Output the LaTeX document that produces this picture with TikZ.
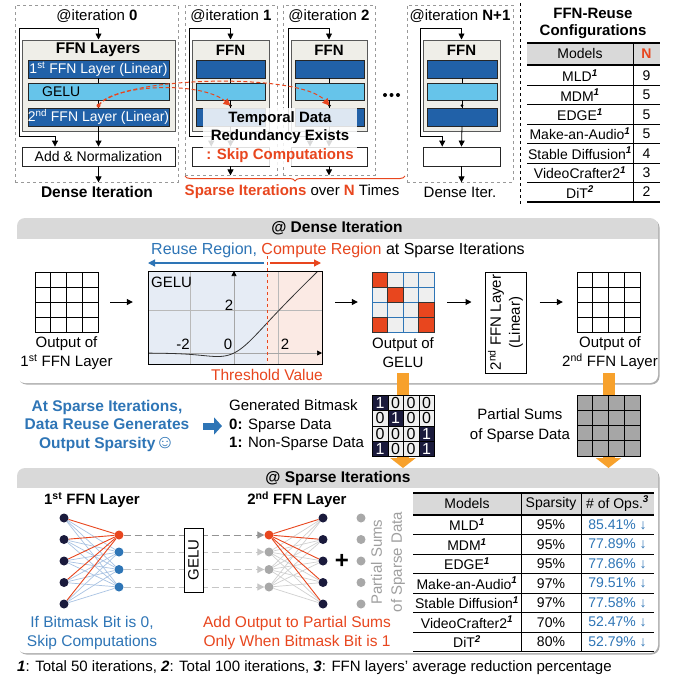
\documentclass[tikz,border=0pt]{standalone}
\usepackage{fontspec}
\setmainfont{Liberation Sans}
\usetikzlibrary{arrows.meta,decorations.pathreplacing,fit,shadows,calc}
\pgfdeclarelayer{back}
\pgfdeclarelayer{edges}
\pgfsetlayers{back,edges,main}
\definecolor{dkblue}{HTML}{2161A8}
\definecolor{ltblue}{HTML}{66C4EA}
\definecolor{ffnfill}{HTML}{EFEEE8}
\definecolor{redo}{HTML}{E8461E}
\definecolor{txtblue}{HTML}{2E75B6}
\definecolor{orng}{HTML}{F7A12C}
\definecolor{navy}{HTML}{1A1A3C}
\definecolor{hdrgray}{HTML}{D9D9D9}
\definecolor{reusefill}{HTML}{E6ECF5}
\definecolor{compfill}{HTML}{FBEAE4}
\definecolor{cellgray}{HTML}{EFEFEF}
\definecolor{psgray}{HTML}{A6A6A6}
\definecolor{nngray}{HTML}{A8A8A8}
\definecolor{edgeblue}{HTML}{A9C3E3}
\definecolor{edgegray}{HTML}{D0D0D0}
\newcommand\fsz{\fontsize{15}{18}\selectfont}
\newcommand\fsy{\fontsize{14}{17}\selectfont}
\newcommand\tsup[1]{\textsuperscript{\bfseries\itshape #1}}
\newcommand\cgrid[5]{%
  \foreach \ii in {0,...,3} \foreach \jj in {0,...,3}
    \draw[#5] ({#1+\ii*#3},{#2+\jj*#4}) rectangle ++(#3,#4);
}
\newcommand\ffnit[9]{%
  \node[itbox, fit={(#2,5)(#3,#4)}] (#1) {};
  \node[lbl] (#1t) at ({(#2+#3)/2},16) {#9};
  \node[ffnbox, fit={(#5,40)(#6,131)}] (#1f) {};
  \node[lbl, font=\bfseries\fsz] (#1h) at ({(#5+#6)/2},50) {FFN};
  \node[dkbox, fit={(#7,60)(#8,78)}] (#1a) {};
  \node[ltbox, fit={(#7,83)(#8,100)}] (#1g) {};
  \node[dkbox, fit={(#7,108)(#8,126)}] (#1b) {};
  \node[addbox, fit={(#5,147)(#6,166)}] (#1n) {};
  \draw (#1a) -- (#1g);
  \draw (#1g) -- (#1b);
  \coordinate (#1c) at ({#5-3},28);
  \coordinate (#1d) at ({(3*#5+#6)/4},136);
  \draw[arr] (#1c) -| (#1f.north);
  \draw[arr] (#1c) |- (#1d) -- (#1d |- #1n.north);
  \draw[arr] (#1b.south) -- (#1n.north);
  \draw[arr] (#1n.south) -- (#1n.south |- #1.south);
  \fill ($(#1b.north)+(0,-2)$) circle (1.6);
}
\tikzset{
  every node/.style={font=\fsz},
  lbl/.style={inner sep=0pt},
  itbox/.style={draw=gray!80, dashed, line width=0.8pt, inner sep=0pt},
  ffnbox/.style={draw=gray!70!black, fill=ffnfill, line width=1pt, inner sep=0pt},
  dkbox/.style={draw=black!85, fill=dkblue, line width=0.8pt, inner sep=0pt},
  ltbox/.style={draw=black!85, fill=ltblue, line width=0.8pt, inner sep=0pt},
  addbox/.style={draw=black!85, fill=white, line width=0.8pt, inner sep=0pt},
  arr/.style={-{Triangle[length=6pt,width=6pt]}, line width=0.8pt},
  reddash/.style={draw=redo, dash pattern=on 4pt off 2.5pt, line width=1pt, -{Triangle[length=7pt,width=7pt]}},
  panel/.style={fill=white, rounded corners=8pt, inner sep=0pt, drop shadow={shadow xshift=1.5pt, shadow yshift=-1.5pt, fill=black!45, opacity=0.7}},
  tt/.style={font=\fsy, inner sep=0pt},
  nn/.style={circle, minimum size=9pt, inner sep=0pt},
  hid/.style={inner sep=0pt},
}
\begin{document}
\begin{tikzpicture}[x=1pt,y=-1pt]
\useasboundingbox (0,0) rectangle (677,681);

% ================= TOP: iterations =================
\node[itbox, fit={(15,5)(178,182)}] (it0) {};
\node[lbl] (it0t) at (97,16) {@iteration \textbf{0}};
\node[ffnbox, fit={(22,40)(175,131)}] (it0f) {};
\node[lbl, font=\bfseries\fontsize{15.5}{18}\selectfont] (it0h) at (98,50) {FFN Layers};
\node[dkbox, fit={(28,60)(169,78)}] (it0a) {};
\node[lbl, text=white, font=\fsy] (it0at) at (it0a.center) {1\textsuperscript{st} FFN Layer (Linear)};
\node[ltbox, fit={(28,83)(169,100)}] (it0g) {};
\node[lbl, anchor=west, font=\fsy] (it0gt) at (42,91.5) {GELU};
\node[dkbox, fit={(28,108)(169,126)}] (it0b) {};
\node[lbl, text=white, font=\fsy] (it0bt) at (it0b.center) {2\textsuperscript{nd} FFN Layer (Linear)};
\node[addbox, fit={(22,147)(175,166)}] (it0n) {};
\node[lbl, font=\fsy] (it0nt) at (it0n.center) {Add \& Normalization};
\draw (it0a) -- (it0g);
\draw (it0g) -- (it0b);
\coordinate (it0c) at (19,28);
\coordinate (it0d) at (55,136);
\draw[arr] (it0c) -| (it0f.north);
\draw[arr] (it0c) |- (it0d) -- (it0d |- it0n.north);
\draw[arr] (it0b.south) -- (it0n.north);
\draw[arr] (it0n.south) -- (it0n.south |- it0.south);
\node[lbl, font=\bfseries\fontsize{15.5}{18}\selectfont] (it0l) at (97,192) {Dense Iteration};

\ffnit{it1}{185}{277}{175}{192}{269}{196}{265}{@iteration \textbf{1}}
\ffnit{it2}{283}{375}{175}{291}{367}{295}{364}{@iteration \textbf{2}}
\ffnit{itn}{407}{513}{182}{423}{500}{427}{497}{@iteration \textbf{N+1}}
\node[lbl] (itnl) at (460,192) {Dense Iter.};

\foreach \x in {385,391.5,398} \fill (\x,95) circle (2);

% overlay
\node[fill=white, fill opacity=0.85, inner sep=0pt, fit={(203,108)(357,166)}] (ov) {};
\node[lbl, font=\bfseries\fsz] (ov1) at (280,119) {Temporal Data};
\node[lbl, font=\bfseries\fsz] (ov2) at (280,137) {Redundancy Exists};
\node[lbl, font=\bfseries\fsz, text=redo] (ov3) at (280,156) {: Skip Computations};

% red dashed reuse curves
\coordinate (rd0) at ($(it0b.north)+(0,-2)$);
\coordinate (rd1) at ($(it1b.north)+(0,-2)$);
\coordinate (rd2) at ($(it2b.north)+(0,-2)$);
\fill[redo] (rd0) circle (2);
\draw[reddash] (rd0) .. controls (110,85) and (200,80) .. (rd1);
\draw[reddash] (rd0) .. controls (120,76) and (300,72) .. (rd2);

% brace
\draw[redo, line width=1pt, decorate, decoration={brace, amplitude=5pt, mirror}] (185,176) -- (405,176);
\node[lbl] (spl) at (292,192) {\textcolor{redo}{\textbf{Sparse Iterations}} over \textcolor{redo}{\textbf{N}} Times};

% separator
\draw[dashed, line width=0.8pt] (520,3) -- (520,205);

% table 1
\node[lbl, font=\bfseries\fontsize{15}{17}\selectfont, align=center] (cfgt) at (593,23) {FFN-Reuse\\Configurations};
\fill[hdrgray] (527,43) rectangle (660,64);
\draw[line width=1.2pt] (527,43) -- (660,43);
\draw[line width=1.6pt] (527,65) -- (660,65);
\foreach \k in {1,...,6} \draw[line width=0.8pt] (527,{66+19.4*\k}) -- (660,{66+19.4*\k});
\draw[line width=1.2pt] (527,202) -- (660,202);
\draw[line width=0.8pt] (633,43) -- (633,202);
\node[tt] (c1h) at (580,53.5) {Models};
\node[tt, text=redo, font=\bfseries\fsy] (c2h) at (646.5,53.5) {N};
\foreach \m/\n [count=\i] in {{MLD\tsup{1}}/9,{MDM\tsup{1}}/5,{EDGE\tsup{1}}/5,{Make-an-Audio\tsup{1}}/5,{Stable Diffusion\tsup{1}}/4,{VideoCrafter2\tsup{1}}/3,{DiT\tsup{2}}/2} {
  \node[tt] (cm\i) at (580,{75.7+19.4*(\i-1)}) {\m};
  \node[tt] (cn\i) at (646.5,{75.7+19.4*(\i-1)}) {\n};
}

% ================= MIDDLE: dense iteration panel =================
\begin{pgfonlayer}{back}
\node[panel, fit={(17,218)(658,383)}] (dp) {};
\begin{scope}
\clip[rounded corners=8pt] (17,218) rectangle (658,383);
\fill[hdrgray] (17,218) rectangle (658,239);
\end{scope}
\node[panel, fit={(17,468)(658,653)}] (sp) {};
\begin{scope}
\clip[rounded corners=8pt] (17,468) rectangle (658,653);
\fill[hdrgray] (17,468) rectangle (658,488);
\end{scope}
\end{pgfonlayer}
\node[lbl, font=\bfseries\fontsize{15.5}{18}\selectfont] (dpt) at (337,228.5) {@ Dense Iteration};
\node[lbl, anchor=west, font=\fontsize{16}{18}\selectfont] (rrt) at (151,250) {\textcolor{txtblue}{Reuse Region,} \textcolor{redo}{Compute Region} at Sparse Iterations};

% grid 1
\cgrid{35}{272}{15.75}{15}{line width=1pt, fill=white}
\node[hid, fit={(35,272)(98,332)}] (g1) {};
\node[lbl, align=center, font=\fontsize{15}{19}\selectfont] (g1l) at (66.5,353) {Output of\\1\textsuperscript{st} FFN Layer};

% GELU plot
\node[hid, fit={(148,271)(322,364)}] (gp) {};
\fill[reusefill] (148,271) rectangle (267,364);
\fill[compfill] (267,271) rectangle (322,364);
\draw[gray!55, line width=0.6pt] (190,271) -- (190,364) (278,271) -- (278,364) (148,310) -- (322,310);
\draw[gray!70, line width=0.7pt, -{Triangle[length=5pt,width=5pt,color=black]}] (234,364) -- (234,271);
\draw[gray!70, line width=0.7pt, -{Triangle[length=5pt,width=5pt,color=black]}] (148,353) -- (322,353);
\begin{scope}
\clip (148,271) rectangle (322,364);
\draw[black!80, line width=0.8pt] plot[domain=-3.95:4, samples=80, smooth] ({234+22*\x},{353-21.5*\x/(1+exp(-1.702*\x))});
\end{scope}
\draw[line width=1pt] (148,271) rectangle (322,364);
\node[lbl, anchor=west] (gpl) at (151,282) {GELU};
\node[lbl] (gy2) at (229,305) {2};
\node[lbl] (gxm2) at (183,344) {-2};
\node[lbl] (gx0) at (228,344) {0};
\node[lbl] (gx2) at (285,344) {2};
\coordinate (thT) at (267,256);
\coordinate (thB) at (267,364);
\draw[redo, dashed, line width=1pt] (thT) -- (thB);
\node[lbl, text=redo, font=\fontsize{15.5}{18}\selectfont] (thv) at (267,375) {Threshold Value};
\draw[txtblue, line width=1.2pt, -{Triangle[length=7pt,width=7pt]}] (264,263) -- (148,263);
\draw[redo, line width=1.2pt, -{Triangle[length=7pt,width=7pt]}] (270,263) -- (321,263);

% orange arrows (behind lower grids)
\coordinate (oa1) at (403,373);
\coordinate (oa1e) at (403,468);
\coordinate (oa2) at (608.5,373);
\coordinate (oa2e) at (608.5,468);
\draw[orng, line width=12pt, -{Triangle[length=10pt,width=25pt]}] (oa1) -- (oa1e);
\draw[orng, line width=12pt, -{Triangle[length=10pt,width=25pt]}] (oa2) -- (oa2e);

% GELU output grid
\cgrid{372}{272}{15.5}{15}{line width=0.8pt, draw=txtblue, fill=cellgray}
\foreach \ci/\cj in {0/0,1/1,3/2,0/3,3/3}
  \draw[line width=0.9pt, draw=black!80, fill=redo] ({372+\ci*15.5},{272+\cj*15}) rectangle ++(15.5,15);
\node[hid, fit={(372,272)(434,332)}] (g2) {};
\node[lbl, align=center, font=\fontsize{15}{19}\selectfont] (g2l) at (403,353) {Output of\\GELU};

% 2nd FFN linear box
\node[draw, line width=1pt, inner sep=0pt, fit={(485,272)(526,373)}] (lin) {};
\node[lbl, rotate=90, align=center, font=\fontsize{15}{19}\selectfont] (lint) at (lin.center) {2\textsuperscript{nd} FFN Layer\\(Linear)};

% grid 3
\cgrid{577}{272}{15.75}{15}{line width=1pt, fill=white}
\node[hid, fit={(577,272)(640,332)}] (g3) {};
\node[lbl, align=center, font=\fontsize{15}{19}\selectfont] (g3l) at (610,353) {Output of\\2\textsuperscript{nd} FFN Layer};

% flow arrows
\draw[arr, line width=1pt, shorten <=12pt, shorten >=15pt] (g1.east) -- (g1.east -| gp.west);
\draw[arr, line width=1pt, shorten <=13pt, shorten >=14pt] (g2.west -| gp.east) -- (g2.west);
\draw[arr, line width=1pt, shorten <=13pt, shorten >=13pt] (g2.east) -- (g2.east -| lin.west);
\draw[arr, line width=1pt, shorten <=13pt, shorten >=14pt] (g3.west -| lin.east) -- (g3.west);

% ================= STRIP =================
\node[lbl, align=center, text=txtblue, font=\bfseries\fontsize{15.5}{18.5}\selectfont] (spx) at (107,425.5) {At Sparse Iterations,\\Data Reuse Generates\\Output Sparsity{\mdseries\fontsize{19}{18.5}\selectfont ☺}};
\coordinate (ba1) at (203,426);
\coordinate (ba2) at (222,426);
\draw[txtblue, line width=7pt, -{Triangle[length=8pt,width=17pt]}] (ba1) -- (ba2);
\node[lbl, anchor=west, align=left, font=\fontsize{15}{18.5}\selectfont] (bmt) at (229,425.5) {Generated Bitmask\\\textbf{0:} Sparse Data\\\textbf{1:} Non-Sparse Data};
\foreach \row [count=\j from 0] in {{1,0,0,0},{0,1,0,0},{0,0,0,1},{1,0,0,1}} {
  \foreach \v [count=\i from 0] in \row {
    \ifnum\v=1 \def\cf{navy}\def\ct{white}\else\def\cf{cellgray}\def\ct{black}\fi
    \node[draw=black, line width=0.8pt, fill=\cf, text=\ct, minimum width=15.5pt, minimum height=15.25pt, inner sep=0pt, anchor=north west, font=\fontsize{16}{16}\selectfont] (bm\j\i) at ({372+15.5*\i},{395+15.25*\j}) {\v};
  }
}
\node[lbl, align=center, font=\fontsize{15}{20}\selectfont] (pst) at (520,426) {Partial Sums\\of Sparse Data};
\cgrid{577}{395}{15.75}{15.25}{line width=1pt, fill=psgray}

% ================= BOTTOM: sparse iterations panel =================
\node[lbl, font=\bfseries\fontsize{15.5}{18}\selectfont] (spt) at (338,478) {@ Sparse Iterations};
\node[lbl, font=\bfseries\fsz] (nl1) at (92,500) {1\textsuperscript{st} FFN Layer};
\node[lbl, font=\bfseries\fsz] (nl2) at (297,500) {2\textsuperscript{nd} FFN Layer};
\foreach \y [count=\i] in {518,539.5,561,582.5,604} {
  \node[nn, fill=navy] (L\i) at (64,\y) {};
  \node[nn, fill=navy] (O\i) at (323,\y) {};
  \node[nn, fill=nngray] (P\i) at (361,\y) {};
}
\foreach \y/\cm/\cr [count=\i] in {535/redo/redo,552/txtblue/nngray,569.5/txtblue/nngray,587/txtblue/nngray} {
  \node[nn, fill=\cm] (M\i) at (119,\y) {};
  \node[nn, fill=\cr] (R\i) at (269,\y) {};
}
\begin{pgfonlayer}{edges}
\foreach \i in {1,...,5} {
  \foreach \k in {2,3,4} {
    \draw[edgeblue, line width=0.7pt] (L\i) -- (M\k);
    \draw[edgegray, line width=0.7pt] (R\k) -- (O\i);
  }
}
\foreach \i in {1,...,5} {
  \draw[redo, line width=0.9pt] (L\i) -- (M1);
  \draw[redo, line width=0.9pt] (R1) -- (O\i);
}
\draw[gray!85, dash pattern=on 7pt off 4pt, line width=1pt, -{Triangle[length=7pt,width=7pt]}] (M1) -- (R1);
\foreach \k in {2,3,4}
  \draw[gray!45, dash pattern=on 7pt off 4pt, line width=1pt, -{Triangle[length=7pt,width=7pt]}] (M\k) -- (R\k);
\end{pgfonlayer}
\node[draw, fill=white, line width=0.9pt, inner sep=0pt, fit={(184,528)(203,592)}] (ngb) {};
\node[lbl, rotate=90] (ngbt) at (ngb.center) {GELU};
\node[lbl, font=\bfseries\fontsize{24}{24}\selectfont] (plus) at (342,561) {+};
\node[lbl, rotate=90, align=center, text=gray!75, font=\fontsize{15}{20}\selectfont] (pstr) at (388,562) {Partial Sums\\of Sparse Data};
\node[lbl, align=center, text=txtblue, font=\fontsize{15.5}{19}\selectfont] (bt1) at (92,632.5) {If Bitmask Bit is 0,\\Skip Computations};
\node[lbl, align=center, text=redo, font=\fontsize{15.5}{19}\selectfont] (bt2) at (297,632.5) {Add Output to Partial Sums\\Only When Bitmask Bit is 1};

% table 2
\fill[hdrgray] (413,493) rectangle (654,514);
\draw[line width=1.2pt] (413,493) -- (654,493);
\draw[line width=1.6pt] (413,515) -- (654,515);
\foreach \k in {1,...,6} \draw[line width=0.8pt] (413,{515+19.5*\k}) -- (654,{515+19.5*\k});
\draw[line width=1.2pt] (413,651.5) -- (654,651.5);
\draw[line width=0.8pt] (521,493) -- (521,651.5) (581,493) -- (581,651.5);
\node[tt] (h1) at (467,503.5) {Models};
\node[tt] (h2) at (551,503.5) {Sparsity};
\node[tt] (h3) at (617.5,503.5) {\# of Ops.\tsup{3}};
\foreach \m/\s/\o [count=\i] in {{MLD\tsup{1}}/95/85.41,{MDM\tsup{1}}/95/77.89,{EDGE\tsup{1}}/95/77.86,{Make-an-Audio\tsup{1}}/97/79.51,{Stable Diffusion\tsup{1}}/97/77.58,{VideoCrafter2\tsup{1}}/70/52.47,{DiT\tsup{2}}/80/52.79} {
  \node[tt] (tm\i) at (467,{524.75+19.5*(\i-1)}) {\m};
  \node[tt] (ts\i) at (551,{524.75+19.5*(\i-1)}) {\s\%};
  \node[tt, text=txtblue] (to\i) at (617.5,{524.75+19.5*(\i-1)}) {\o\% ↓};
}

% footnote
\node[lbl, anchor=west, font=\fontsize{15}{17}\selectfont] (fn) at (17,668) {\textbf{\textit{1}}: Total 50 iterations, \textbf{\textit{2}}: Total 100 iterations, \textbf{\textit{3}}: FFN layers' average reduction percentage};
\end{tikzpicture}
\end{document}
